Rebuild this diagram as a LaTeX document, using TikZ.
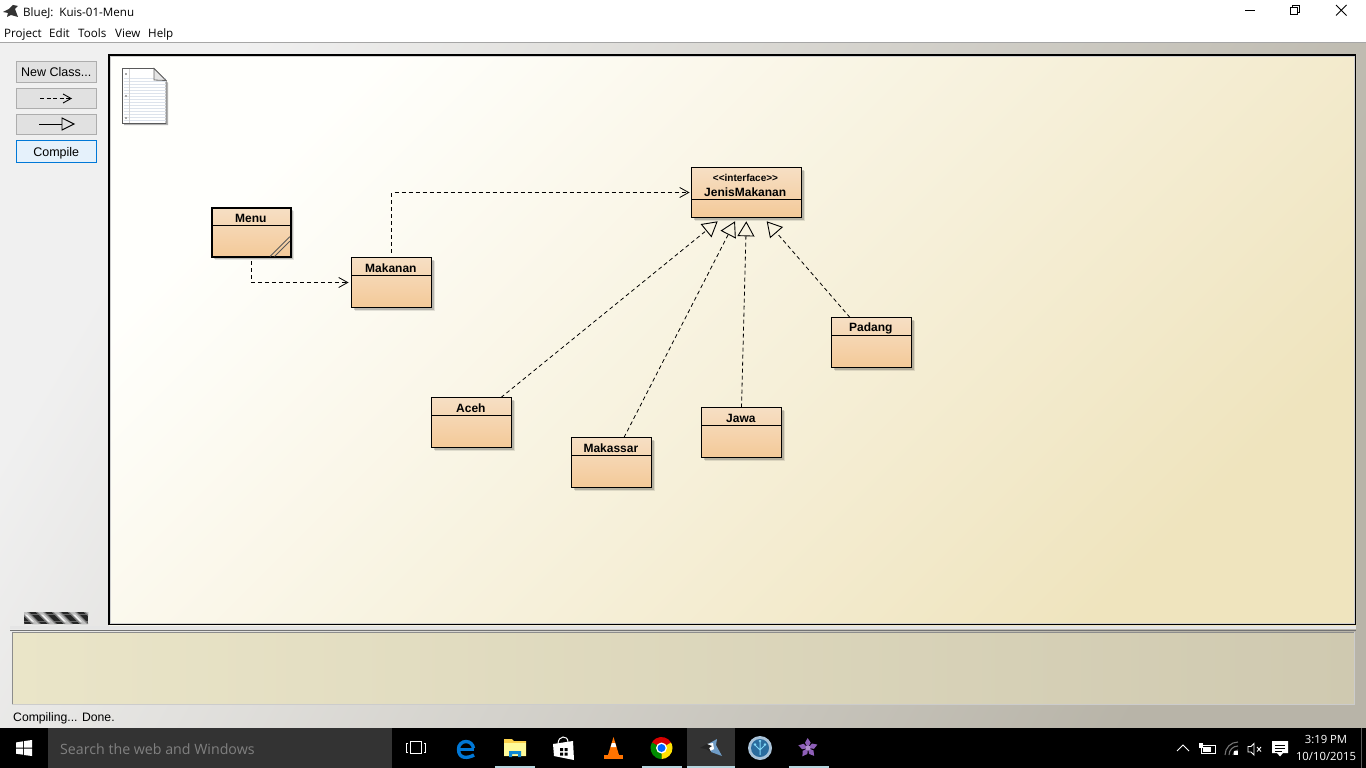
\documentclass[tikz,border=0pt]{standalone}
\usepackage{fontspec}
\setmainfont{Liberation Sans}
\newfontfamily\uifont{Open Sans}
\usetikzlibrary{arrows.meta,shadows,calc}
\definecolor{cvTL}{HTML}{FFFFFC}
\definecolor{cvBR}{HTML}{EFE4BE}
\definecolor{wnTL}{HTML}{F0F0F0}
\definecolor{wnBR}{HTML}{B8B4A8}
\definecolor{tmL}{HTML}{EAE5C8}
\definecolor{tmR}{HTML}{CFC9B0}
\definecolor{clsTop}{HTML}{F6DFC4}
\definecolor{clsBot}{HTML}{F4C998}
\definecolor{btn}{HTML}{E1E1E1}
\definecolor{btnEdge}{HTML}{ADADAD}
\definecolor{cmpFill}{HTML}{E5F1FB}
\definecolor{cmpEdge}{HTML}{0078D7}
\definecolor{taskGrey}{HTML}{333333}
\definecolor{taskLine}{HTML}{B5D5DE}
\definecolor{noteLine}{HTML}{DDE3EC}
\definecolor{flowerC}{HTML}{8E5FB8}
\definecolor{treeRing}{HTML}{A9C3D9}
\definecolor{treeCore}{HTML}{2B6C9E}
\definecolor{birdBlue}{HTML}{6F9CC6}
\tikzset{
  clsbox/.style={draw=black,line width=1pt,top color=clsTop,bottom color=clsBot,
    drop shadow={shadow xshift=3pt,shadow yshift=-3pt,opacity=.10,fill=black},
    drop shadow={shadow xshift=2pt,shadow yshift=-2pt,opacity=.18,fill=black},
    inner sep=0pt,outer sep=0pt,rectangle},
  clslabel/.style={font=\bfseries\fontsize{12}{14}\selectfont,text=black,inner sep=0pt},
  dep/.style={draw=black,line width=.8pt,dash pattern=on 4pt off 3pt,
    -{Straight Barb[length=9pt,width=10pt,line width=.8pt]}},
  impl/.style={draw=black,line width=.8pt,dash pattern=on 4pt off 3pt,
    -{Triangle[open,length=15pt,width=17pt,line width=.9pt]}},
  toolbtn/.style={draw=btnEdge,fill=btn,line width=.9pt,inner sep=0pt,outer sep=0pt,rectangle,
    font=\fontsize{12.5}{14}\selectfont,text=black,text depth=0pt},
  uitext/.style={font=\uifont\fontsize{11.6}{14}\selectfont,text=black,inner sep=0pt,anchor=base west},
  tasktext/.style={font=\uifont\fontsize{11.3}{14}\selectfont,text=white,inner sep=0pt},
  trayline/.style={draw=white,line width=1pt},
}
\newcommand{\umlclass}[7]{% name, cx, cy, w, h, header height, label
  \node[clsbox,minimum width=#4pt,minimum height=#5pt] (#1) at (#2,#3) {};
  \draw[black,line width=1pt] ([yshift=-#6pt]#1.north west) -- ([yshift=-#6pt]#1.north east);
  \node[clslabel] (#1label) at ([xshift=-0.6pt,yshift=-10.7pt]#1.north) {#7};
}
\begin{document}
\begin{tikzpicture}[x=1pt,y=-1pt]
\useasboundingbox (0,0) rectangle (1366,768);
% window
\fill[white] (0,0) rectangle (1366,43);
\shade[shading=axis,top color=wnTL,bottom color=wnBR,shading angle=60] (0,43) rectangle (1366,728);
\draw[color=black!35,line width=1pt] (0,42.5) -- (1366,42.5);
% title bar
\path[fill=black!80] (3,12) -- (9,9) -- (13,5) -- (18,6) -- (15,9) -- (18,17) -- (11,15) -- (7,17) -- (8,13) -- cycle;
\node[uitext] (title) at (23,17) {BlueJ:\ \ Kuis-01-Menu};
\node[uitext] (mProject) at (4,37.5) {Project};
\node[uitext] (mEdit) at (49,37.5) {Edit};
\node[uitext] (mTools) at (78,37.5) {Tools};
\node[uitext] (mView) at (115,37.5) {View};
\node[uitext] (mHelp) at (148,37.5) {Help};
\draw[black,line width=1pt] (1245,10.5) -- (1255,10.5);
\draw[black,line width=1pt] (1290.5,7.5) rectangle (1297.5,14.5);
\draw[black,line width=1pt] (1292.5,7.5) -- (1292.5,5.5) -- (1299.5,5.5) -- (1299.5,12.5) -- (1297.5,12.5);
\draw[black,line width=.9pt] (1336,5) -- (1346.5,15.5) (1346.5,5) -- (1336,15.5);
% toolbar
\node[toolbtn,minimum width=80.5pt,minimum height=21pt] (newclass) at (56.2,71.5) {\raisebox{-1pt}{New Class...}};
\node[toolbtn,minimum width=80.5pt,minimum height=20pt] (btnDep) at (56.2,98) {};
\node[toolbtn,minimum width=80.5pt,minimum height=20pt] (btnInh) at (56.2,124) {};
\node[toolbtn,draw=cmpEdge,fill=cmpFill,minimum width=80.5pt,minimum height=22pt] (compile) at (56.2,151.5) {\raisebox{-1.5pt}{Compile}};
\draw[black,line width=.9pt,dash pattern=on 4pt off 2.5pt,-{Straight Barb[length=8pt,width=9pt,line width=.9pt]}] (40,98.5) -- (72,98.5);
\draw[black,line width=.9pt] (39,124) -- (62,124);
\draw[black,line width=.9pt] (62,118) -- (74,124) -- (62,130) -- cycle;
% progress indicator
\begin{scope}
  \clip (24,612) rectangle (88,624);
  \fill[black!85] (24,612) rectangle (88,624);
  \fill[black!60] (24,614) rectangle (88,615);
  \fill[black!60] (24,621) rectangle (88,622);
  \foreach \sx in {4,20,36,52,68,84}{
    \fill[black!50] (\sx,612) -- (\sx+9,612) -- (\sx+21,624) -- (\sx+12,624) -- cycle;
    \fill[black!25] (\sx+2,612) -- (\sx+7,612) -- (\sx+19,624) -- (\sx+14,624) -- cycle;
    \fill[black!5] (\sx+5,614.5) -- (\sx+7,614.5) -- (\sx+14,621.5) -- (\sx+12,621.5) -- cycle;
  }
\end{scope}
% canvas
\shade[shading=axis,top color=cvTL,bottom color=cvBR,shading angle=45] (109,55) rectangle (1356,625);
\draw[black!18,line width=1pt] (110.5,56.5) rectangle (1354.5,623.5);
\draw[black,line width=1.3pt] (109,55) rectangle (1355.7,624.7);
% note icon
\path[fill=black!30] (124,70) -- (155,70) -- (168,83) -- (168,125) -- (124,125) -- cycle;
\path[fill=white,draw=black!65,line width=.9pt] (122.5,68.5) -- (154,68.5) -- (166,80.5) -- (166,123.5) -- (122.5,123.5) -- cycle;
\foreach \ly in {78,81,...,120}{ \draw[color=noteLine,line width=.7pt] (123.5,\ly) -- (165.5,\ly); }
\draw[color=black!18,line width=.6pt] (129,69) -- (129,123);
\foreach \ly in {73,95,117}{ \fill[black!35] (125,\ly) rectangle (127,\ly+2); }
\path[fill=black!10,draw=black!60,line width=.8pt] (154,68.5) -- (154,80) -- (166,80.5) -- cycle;
% classes
\umlclass{menu}{251.4}{232.6}{78.6}{48.8}{17.5}{Menu}
\draw[black,line width=2.2pt] (menu.south west) rectangle (menu.north east);
\draw[black!65,line width=1pt] (270,256.5) -- (289.8,236.7) (274.5,256.5) -- (289.8,241.2);
\umlclass{makanan}{391.5}{282.5}{80}{50}{17.5}{Makanan}
\umlclass{aceh}{471.5}{422.5}{80}{50}{17.5}{Aceh}
\umlclass{makassar}{611.5}{462.5}{80}{50}{17.5}{Makassar}
\umlclass{jawa}{741.5}{432.5}{80}{50}{17.5}{Jawa}
\umlclass{padang}{871.5}{342.5}{80}{50}{17.5}{Padang}
\node[clsbox,minimum width=110pt,minimum height=50pt] (jenis) at (746.5,192.5) {};
\draw[black,line width=1pt] ([yshift=-32pt]jenis.north west) -- ([yshift=-32pt]jenis.north east);
\node[font=\bfseries\fontsize{10}{11}\selectfont,text=black,inner sep=0pt] (jenisStereo) at (745.5,177.7) {<{}<interface>{}>};
\node[clslabel] (jenisLabel) at (745.2,192) {JenisMakanan};
% connectors
\draw[dep,shorten <=4pt,shorten >=3pt] (menu.south) |- (makanan.west);
\draw[dep,shorten <=5pt,shorten >=2pt] (makanan.north) |- (jenis.west);
\coordinate (tipA) at (717.7,221.3);
\coordinate (tipB) at (735,221.3);
\coordinate (tipC) at (746.3,221.3);
\coordinate (tipD) at (766.7,221.3);
\draw[impl] ([xshift=29.5pt]aceh.north) -- (tipA);
\draw[impl] ([xshift=12.5pt]makassar.north) -- (tipB);
\draw[impl] (jawa.north) -- (tipC);
\draw[impl] ([xshift=-21.5pt]padang.north) -- (tipD);
% terminal strip
\fill[white!90!black] (10,626) rectangle (1356,628.5);
\draw[black!55,line width=1pt] (10,630) -- (1356,630);
\shade[shading=axis,left color=tmL,right color=tmR] (12,632) rectangle (1354,704);
\draw[black!45,line width=1pt] (12,704) -- (12,632) -- (1354,632);
\draw[black!20,line width=1pt] (12,704) -- (1354,704) -- (1354,632);
\node[font=\fontsize{12.2}{14}\selectfont,text=black,inner sep=0pt,anchor=base west] (status) at (13,721) {Compiling... Done.};
% taskbar
\fill[black] (0,728) rectangle (1366,768);
\fill[taskGrey] (48,728) rectangle (392,768);
\fill[taskGrey] (687,728) rectangle (735,768);
\node[font=\uifont\fontsize{14.2}{16}\selectfont,text=black!50,inner sep=0pt,anchor=base west] (search) at (60,754) {Search the web and Windows};
\foreach \ax/\bx in {495/535,642/682,687/735,789/829}{ \fill[taskLine] (\ax,766) rectangle (\bx,768); }
% start
\fill[white] (16,742.5) -- (23,741.3) -- (23,747.5) -- (16,747.5) -- cycle;
\fill[white] (24,741.1) -- (32,740) -- (32,747.5) -- (24,747.5) -- cycle;
\fill[white] (16,748.5) -- (23,748.5) -- (23,754.7) -- (16,753.7) -- cycle;
\fill[white] (24,748.5) -- (32,748.5) -- (32,756) -- (24,755) -- cycle;
% task view
\draw[white,line width=1pt] (410.5,741.5) rectangle (421.5,753.5);
\draw[white,line width=1pt] (408,743) -- (406.5,743) -- (406.5,752) -- (408,752) (424,743) -- (425.5,743) -- (425.5,752) -- (424,752);
% edge
\begin{scope}[shift={(466,748)},yscale=-1]
  \draw[color=cmpEdge,line width=3.4pt] (-7.5,-1) arc[start angle=180,end angle=5,radius=7.5];
  \draw[color=cmpEdge,line width=3pt] (-7.5,-1) -- (8,-1);
  \draw[color=cmpEdge,line width=3.4pt] (-7.5,-1) .. controls (-7.5,-12) and (3,-10) .. (8,-7);
\end{scope}
% explorer
\fill[yellow!55!orange!70] (504,739) -- (512,739) -- (514,741) -- (526,741) -- (526,756) -- (504,756) -- cycle;
\fill[yellow!40!white] (504,743) rectangle (526,756);
\fill[cyan!70!blue] (509,757) -- (509,751) -- (521,751) -- (521,757) -- (518,757) -- (518,754) -- (512,754) -- (512,757) -- cycle;
% store
\fill[white] (553,744) -- (573,741) -- (574,760) -- (554,756) -- cycle;
\draw[white,line width=1pt] (558,744) .. controls (558,735) and (568,735) .. (568,742);
\fill[black] (560,748) rectangle (563,751) (564.5,748) rectangle (567.5,751) (560,752.5) rectangle (563,755.5) (564.5,752.5) rectangle (567.5,755.5);
% vlc
\fill[orange!90!red] (613.5,737) -- (619,755) -- (608,755) -- cycle;
\fill[white] (611.8,743) -- (615.2,743) -- (616.3,747) -- (610.7,747) -- cycle;
\fill[orange!90!red] (604,755) -- (623,755) -- (623,759) -- (604,759) -- cycle;
% chrome
\begin{scope}[shift={(661.5,748)},yscale=-1]
  \fill[red!85!black] (0,0) -- (30:11) arc[start angle=30,end angle=150,radius=11] -- cycle;
  \fill[green!55!black] (0,0) -- (150:11) arc[start angle=150,end angle=270,radius=11] -- cycle;
  \fill[yellow!85!orange] (0,0) -- (270:11) arc[start angle=270,end angle=390,radius=11] -- cycle;
  \fill[white] (0,0) circle[radius=5.5];
  \fill[blue!60!cyan] (0,0) circle[radius=4];
\end{scope}
% bluej bird
\fill[birdBlue] (708,744) -- (717,739) -- (716,745) -- (722,756) -- (711,752) -- cycle;
\fill[white] (707,744) -- (713,743) -- (714,749) -- (710,751) -- cycle;
\fill[black!85] (700,748) -- (707,744) -- (712,746) -- (709,748) -- (711,752) -- (706,749) -- cycle;
% sourcetree
\fill[treeRing] (760,748) circle[radius=12];
\fill[treeCore] (760,748) circle[radius=9];
\draw[cyan!50!white,line width=1pt] (760,755) -- (760,742) (760,750) -- (755,745) (760,750) -- (765,745);
\fill[cyan!50!white] (760,741) circle[radius=1.3] (755,744.5) circle[radius=1.3] (765,744.5) circle[radius=1.3];
% flower
\begin{scope}[shift={(808,748)},yscale=-1]
  \foreach \ang in {20,92,164,236,308}{
    \fill[flowerC] (0,0) -- (\ang-28:6) -- (\ang:10) -- (\ang+28:6) -- cycle;
  }
  \fill[flowerC!70!white] (0,0) circle[radius=2.5];
\end{scope}
% tray
\draw[trayline] (1177,751) -- (1183,745) -- (1189,751);
\draw[trayline] (1201.5,745.5) rectangle (1215,753.5);
\fill[white] (1203,747) rectangle (1211,752);
\fill[white] (1199,743) rectangle (1203,748);
\begin{scope}[shift={(1238,755)},yscale=-1]
  \draw[black!55,line width=1.1pt] (-13,0) arc[start angle=180,end angle=90,radius=13];
  \draw[black!55,line width=1.1pt] (-9,0) arc[start angle=180,end angle=90,radius=9];
  \draw[black!55,line width=1.1pt] (-5,0) arc[start angle=180,end angle=90,radius=5];
  \fill[white] (-4,0) rectangle (0,4);
\end{scope}
\draw[white,line width=.9pt] (1248,746.5) -- (1251,746.5) -- (1254,743.5) -- (1254,755) -- (1251,752) -- (1248,752) -- cycle;
\draw[white,line width=.9pt] (1257,747) -- (1261,751.5) (1261,747) -- (1257,751.5);
\fill[white] (1272,741) -- (1288,741) -- (1288,753) -- (1283,753) -- (1280,756.5) -- (1277,753) -- (1272,753) -- cycle;
\draw[black,line width=1pt] (1275,745) -- (1285,745) (1275,748) -- (1285,748) (1275,751) -- (1282,751);
\node[tasktext] (clock) at (1326,739) {3:19 PM};
\node[tasktext] (date) at (1326,756) {10/10/2015};
\draw[black!65,line width=1pt] (1361.5,728) -- (1361.5,768);
\end{tikzpicture}
\end{document}
